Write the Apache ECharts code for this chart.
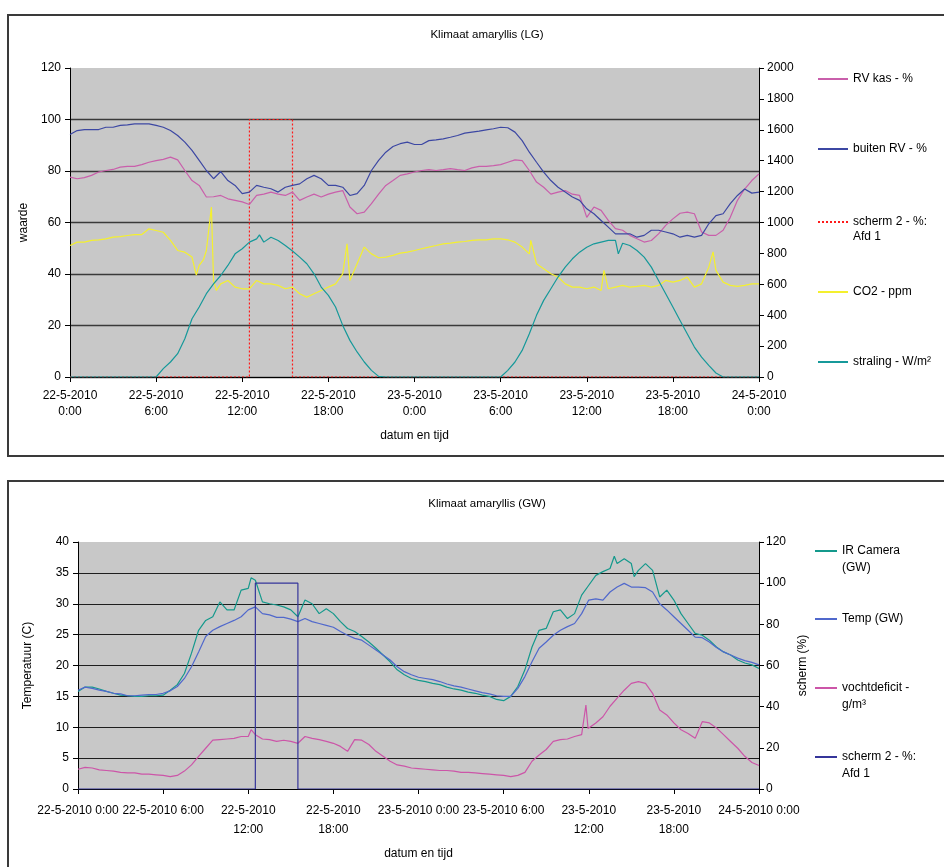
<!DOCTYPE html>
<html lang="nl">
<head>
    <meta charset="UTF-8">
    <title>Klimaat amaryllis</title>
    <script src="https://cdn.jsdelivr.net/npm/echarts@6/dist/echarts.min.js"></script>
    <style>
        body { margin: 0; background: #fff; overflow: hidden; }
        .box {
            position: absolute;
            left: 7px;
            width: 945px;
            border: 2px solid #3a3a3a;
            background: #fff;
        }
        #lg { top: 14px; height: 439px; }
        #gw { top: 480px; height: 400px; }
    </style>
</head>
<body>
<div id="lg" class="box"></div>
<div id="gw" class="box"></div>

<script>
    // tijdstippen: elk half uur, 22-5-2010 0:00 t/m 24-5-2010 0:00 (in uren)
    const hours = [];
    for (let i = 0; i <= 96; i++) hours.push(i / 2);

    // ---- grafiek 1: Klimaat amaryllis (LG) ----
    const xLabelsLG = ['22-5-2010\n0:00', '22-5-2010\n6:00', '22-5-2010\n12:00', '22-5-2010\n18:00',
        '23-5-2010\n0:00', '23-5-2010\n6:00', '23-5-2010\n12:00', '23-5-2010\n18:00', '24-5-2010\n0:00'];

    const rvKas = [77.6, 77, 77.4, 78.3, 79.6, 80.2, 80.6, 81.5, 81.8, 81.8, 82.5, 83.4, 84, 84.5, 85.4, 84.3,
        80.2, 76.3, 74.4, 69.9, 70, 70.5, 69.2, 68.6, 68, 67, 70.5, 71, 71.8, 71, 70.5, 71.8,
        68.6, 69.9, 71, 69.9, 71, 71.8, 72.4, 66, 63.4, 64, 67.3, 71, 74.4, 76.3, 78.3, 78.9,
        79.6, 80.2, 80.5, 80.2, 80.5, 80.9, 80.5, 80.2, 81.2, 81.8, 81.8, 82.1, 82.5, 83.4, 84.3, 84,
        80.2, 75.7, 73.7, 71, 71.8, 72.4, 71, 70.5, 62, 66, 64.7, 60.8, 57.6, 57, 55, 53.7,
        52.4, 53, 55.6, 58.9, 61.4, 63.6, 64, 63.4, 56.3, 55, 55, 57, 62, 68.6, 73, 76.3, 78.9];

    const buitenRV = [94.2, 95.7, 96.1, 96.1, 96.1, 97, 97, 97.7, 97.9, 98.3, 98.3, 98.3, 97.7, 97, 95.7, 93.8,
        91.2, 88, 84.1, 80.2, 77, 79.8, 76.3, 74.4, 71.2, 71.8, 74.4, 73.7, 73.1, 71.8, 73.7, 74.4,
        75, 77, 78.3, 77, 74.4, 74.4, 73.7, 70.5, 71.2, 74.4, 80.2, 84.1, 87.3, 89.5, 90.6, 91.2,
        90.3, 90.3, 91.8, 92.1, 92.5, 93.1, 93.8, 94.7, 95.1, 95.5, 96, 96.4, 97, 96.8, 95.1, 91.8,
        87.3, 83.4, 79.6, 76.3, 73.7, 71.8, 69.9, 68.6, 65.3, 63.4, 60.8, 58.2, 55.6, 55.6, 55.6, 54.3,
        55, 57, 57, 56.3, 55.6, 54.3, 55, 54.3, 55, 59.5, 62.7, 63.4, 67.3, 70.5, 73, 71.4, 71.8];

    const co2 = [851, 873, 873, 884, 888, 894, 905, 909, 916, 922, 922, 959, 948, 937, 884, 819,
        808, 776, 722, 819, 625, 603, 625, 582, 571, 571, 625, 603, 603, 593, 571, 582,
        539, 517, 539, 560, 582, 603, 668, 625, 733, 841, 797, 772, 776, 787, 802, 808,
        819, 830, 841, 851, 862, 866, 873, 877, 884, 888, 888, 894, 894, 888, 873, 841,
        797, 733, 700, 668, 647, 603, 582, 582, 571, 582, 560, 571, 582, 593, 582, 586,
        593, 582, 593, 625, 614, 625, 647, 582, 603, 711, 690, 614, 593, 586, 593, 603, 603];
    // losse pieken in CO2 tussen de halfuurswaarden
    const co2PiekUren = [8.8, 9.3, 9.85, 10.2, 19.3, 32.1, 37.2, 44.8];
    const co2PiekVals = [660, 760, 1100, 560, 862, 884, 690, 810];

    const straling = [0, 0, 0, 0, 0, 0, 0, 0, 0, 0, 0, 0, 0, 54, 97, 151,
        248, 377, 453, 539, 603, 657, 722, 797, 830, 873, 894, 873, 905, 884, 851, 815,
        776, 733, 668, 582, 528, 453, 334, 237, 162, 97, 43, 4, 0, 0, 0, 0,
        0, 0, 0, 0, 0, 0, 0, 0, 0, 0, 0, 0, 0, 43, 97, 172,
        280, 399, 496, 571, 647, 711, 765, 808, 840, 862, 873, 884, 884, 866, 851, 819,
        776, 711, 625, 539, 453, 366, 280, 194, 129, 75, 26, 0, 0, 0, 0, 0, 0];
    const stralingPiekUren = [13.2, 38.2];
    const stralingPiekVals = [920, 797];

    // scherm 2 - %: Afd 1 (dicht van 12:30 tot 15:30)
    const schermHours = [0, 12.5, 12.5, 15.5, 15.5, 48];
    const schermVals = [0, 0, 100, 100, 0, 0];

    // ---- grafiek 2: Klimaat amaryllis (GW) ----
    const xLabelsGW = ['22-5-2010 0:00', '22-5-2010 6:00', '22-5-2010\n12:00', '22-5-2010\n18:00',
        '23-5-2010 0:00', '23-5-2010 6:00', '23-5-2010\n12:00', '23-5-2010\n18:00', '24-5-2010 0:00'];

    const irCamera = [15.8, 16.5, 16.5, 16.2, 15.8, 15.5, 15.2, 15.1, 15, 15, 15.1, 15.1, 15.2, 16, 16.9, 18.7,
        22, 25.7, 27.3, 27.9, 30.3, 29, 29, 32.2, 32.5, 33.8, 30.3, 30, 29.8, 29.5, 29, 27.9,
        30.6, 30, 28.4, 29.2, 28.4, 27.1, 26, 25.5, 24.7, 23.8, 22.8, 21.7, 20.6, 19.3, 18.5, 17.9,
        17.6, 17.4, 17.1, 16.9, 16.5, 16.2, 16, 15.7, 15.5, 15.2, 15, 14.5, 14.3, 15, 16.6, 19.3,
        23, 25.7, 26, 28.7, 29, 27.6, 28.4, 31.4, 33, 34.6, 35.2, 35.7, 36.5, 37.3, 36.5, 35.4,
        36.5, 35.4, 31.1, 32.2, 30.6, 28.4, 26.8, 25.2, 24.9, 24.1, 23, 22.2, 21.7, 20.9, 20.4, 20.1, 19.5];
    const irPiekUren = [12.2, 37.8, 39.2];
    const irPiekVals = [34.2, 37.7, 34.4];

    const tempGW = [16, 16.5, 16.3, 16, 15.8, 15.5, 15.4, 15.1, 15.1, 15.2, 15.3, 15.3, 15.5, 15.9, 16.6, 17.9,
        19.8, 22.2, 24.7, 25.7, 26.3, 26.8, 27.3, 27.9, 29, 29.5, 28.4, 28.2, 27.8, 27.8, 27.5, 27.1,
        27.6, 27.1, 26.8, 26.5, 26.2, 25.5, 24.9, 24.4, 24.1, 23.3, 22.5, 21.7, 20.9, 19.8, 19, 18.5,
        18.1, 17.9, 17.7, 17.4, 17, 16.7, 16.5, 16.2, 15.9, 15.6, 15.4, 15.1, 15, 15, 16.3, 18.2,
        20.6, 22.8, 23.8, 24.9, 25.7, 26.3, 26.8, 28.4, 30.6, 30.8, 30.6, 31.9, 32.7, 33.3, 32.7, 32.7,
        32.6, 31.9, 30, 29, 27.9, 26.8, 25.7, 24.6, 24.5, 23.8, 22.9, 22.2, 21.7, 21.2, 20.8, 20.5, 20.1];

    const vochtdeficit = [3.2, 3.5, 3.4, 3.1, 3, 2.9, 2.7, 2.6, 2.6, 2.4, 2.4, 2.3, 2.2, 2, 2.2, 2.9,
        3.9, 5.3, 6.6, 7.9, 8, 8.1, 8.2, 8.5, 8.5, 8.8, 8.1, 8, 7.7, 7.9, 7.7, 7.4,
        8.5, 8.2, 8, 7.7, 7.4, 6.9, 6.1, 8, 7.9, 7.2, 6.1, 5.3, 4.5, 3.9, 3.7, 3.4,
        3.3, 3.2, 3.1, 3, 3, 2.9, 2.7, 2.7, 2.6, 2.5, 2.4, 2.3, 2.2, 2, 2.2, 2.7,
        4.5, 5.5, 6.4, 7.7, 8, 8.1, 8.5, 8.8, 10.1, 10.7, 11.7, 13.4, 14.7, 16, 17.1, 17.4,
        17.1, 15.5, 12.8, 12, 10.7, 9.6, 9, 8.2, 10.9, 10.7, 9.9, 8.8, 7.7, 6.6, 5.3, 4.3, 3.8];
    const vochtPiekUren = [12.2, 35.8, 35.95];
    const vochtPiekVals = [9.6, 13.6, 9.8];

    const schermGWHours = [0, 12.5, 12.5, 15.5, 15.5, 48];
    const schermGWVals = [0, 0, 100, 100, 0, 0];

    // ---------------------------------------------------------------
    const FONT = 'Liberation Sans, Arial, sans-serif';
    const txt = {color: '#000', fontFamily: FONT, fontSize: 12};

    // halfuurswaarden plus eventuele losse pieken, gesorteerd op tijd
    function pairs(xs, ys, extraX, extraY) {
        const p = xs.map((x, i) => [x, ys[i]]);
        if (extraX) extraX.forEach((x, i) => p.push([x, extraY[i]]));
        return p.sort((a, b) => a[0] - b[0]);
    }

    function lineSeries(name, data, color, yAxisIndex, dotted) {
        return {
            name: name,
            type: 'line',
            yAxisIndex: yAxisIndex,
            data: data,
            symbol: 'none',
            animation: false,
            lineStyle: {color: color, width: 1.2, type: dotted ? [2, 2] : 'solid'},
            itemStyle: {color: color}
        };
    }

    // één legenda per item, zodat ze net als in Excel los onder elkaar staan
    function legendItem(name, left, top, lh, iconW) {
        return {
            data: [name],
            left: left,
            top: top,
            padding: 0,
            itemWidth: iconW,
            itemHeight: lh,
            selectedMode: false,
            itemStyle: {opacity: 0},
            // tweeregelige namen: lege regel ervoor, zodat de eerste regel naast het lijntje staat
            formatter: n => n.indexOf('\n') >= 0 ? '\u00a0\n' + n : n,
            textStyle: Object.assign({}, txt, {lineHeight: lh})
        };
    }

    // grafiek 1
    const chartLG = echarts.init(document.getElementById('lg'));
    chartLG.setOption({
        animation: false,
        title: {
            text: 'Klimaat amaryllis (LG)',
            left: 473, top: 8, textAlign: 'center',
            textStyle: {color: '#000', fontFamily: FONT, fontSize: 11.5, fontWeight: 'normal'}
        },
        grid: {left: 61, top: 52, width: 689, height: 309, show: true, backgroundColor: '#c8c8c8', borderWidth: 0},
        xAxis: {
            type: 'value', min: 0, max: 48, interval: 6,
            name: 'datum en tijd', nameLocation: 'middle', nameGap: 53, nameTextStyle: txt,
            axisLine: {lineStyle: {color: '#000'}},
            axisTick: {length: 5, lineStyle: {color: '#000'}},
            axisLabel: Object.assign({}, txt, {margin: 11, lineHeight: 16, formatter: v => xLabelsLG[v / 6]}),
            splitLine: {show: false}
        },
        yAxis: [{
            type: 'value', min: 0, max: 120, interval: 20,
            name: 'waarde', nameLocation: 'middle', nameGap: 36, nameTextStyle: txt,
            axisLine: {show: true, lineStyle: {color: '#000'}},
            axisTick: {show: true, length: 5, lineStyle: {color: '#000'}},
            axisLabel: Object.assign({}, txt, {margin: 9}),
            splitLine: {show: true, showMaxLine: false, lineStyle: {color: '#3a3a3a', width: 1.4}}
        }, {
            type: 'value', min: 0, max: 2000, interval: 200, position: 'right',
            axisLine: {show: true, lineStyle: {color: '#000'}},
            axisTick: {show: true, length: 5, lineStyle: {color: '#000'}},
            axisLabel: Object.assign({}, txt, {margin: 8, formatter: v => String(v)}),
            splitLine: {show: false}
        }],
        legend: [
            legendItem('RV kas - %', 808, 55.5, 15, 30),
            legendItem('buiten RV - %', 808, 125.5, 15, 30),
            legendItem('scherm 2 - %:\nAfd 1', 808, 183.5, 15, 30),
            legendItem('CO2 - ppm', 808, 268.5, 15, 30),
            legendItem('straling - W/m²', 808, 338.5, 15, 30)
        ],
        series: [
            lineSeries('scherm 2 - %:\nAfd 1', pairs(schermHours, schermVals), '#ff1a1a', 0, true),
            lineSeries('RV kas - %', pairs(hours, rvKas), '#c95fab', 0),
            lineSeries('buiten RV - %', pairs(hours, buitenRV), '#3c47a3', 0),
            lineSeries('CO2 - ppm', pairs(hours, co2, co2PiekUren, co2PiekVals), '#f4f02e', 1),
            lineSeries('straling - W/m²', pairs(hours, straling, stralingPiekUren, stralingPiekVals), '#16999a', 1)
        ]
    });

    // grafiek 2
    const chartGW = echarts.init(document.getElementById('gw'));
    chartGW.setOption({
        animation: false,
        title: {
            text: 'Klimaat amaryllis (GW)',
            left: 473, top: 11, textAlign: 'center',
            textStyle: {color: '#000', fontFamily: FONT, fontSize: 11.5, fontWeight: 'normal'}
        },
        grid: {left: 69, top: 60, width: 681, height: 247, show: true, backgroundColor: '#c8c8c8', borderWidth: 0},
        xAxis: {
            type: 'value', min: 0, max: 48, interval: 6,
            name: 'datum en tijd', nameLocation: 'middle', nameGap: 59, nameTextStyle: txt,
            axisLine: {lineStyle: {color: '#000'}},
            axisTick: {length: 5, lineStyle: {color: '#000'}},
            axisLabel: Object.assign({}, txt, {margin: 12, lineHeight: 19, formatter: v => xLabelsGW[v / 6]}),
            splitLine: {show: false}
        },
        yAxis: [{
            type: 'value', min: 0, max: 40, interval: 5,
            name: 'Temperatuur (C)', nameLocation: 'middle', nameGap: 44, nameTextStyle: txt,
            axisLine: {show: true, lineStyle: {color: '#000'}},
            axisTick: {show: true, length: 5, lineStyle: {color: '#000'}},
            axisLabel: Object.assign({}, txt, {margin: 9}),
            splitLine: {show: true, showMaxLine: false, lineStyle: {color: '#1e1e1e', width: 1.2}}
        }, {
            type: 'value', min: 0, max: 120, interval: 20, position: 'right',
            name: 'scherm (%)', nameLocation: 'middle', nameGap: 35, nameTextStyle: txt,
            axisLine: {show: true, lineStyle: {color: '#000'}},
            axisTick: {show: true, length: 5, lineStyle: {color: '#000'}},
            axisLabel: Object.assign({}, txt, {margin: 7}),
            splitLine: {show: false}
        }],
        legend: [
            legendItem('IR Camera\n(GW)', 805, 43.5, 17, 22),
            legendItem('Temp (GW)', 805, 128.5, 17, 22),
            legendItem('vochtdeficit -\ng/m³', 805, 180.5, 17, 22),
            legendItem('scherm 2 - %:\nAfd 1', 805, 249.5, 17, 22)
        ],
        series: [
            lineSeries('IR Camera\n(GW)', pairs(hours, irCamera, irPiekUren, irPiekVals), '#14998c', 0),
            lineSeries('Temp (GW)', pairs(hours, tempGW), '#5068cc', 0),
            lineSeries('vochtdeficit -\ng/m³', pairs(hours, vochtdeficit, vochtPiekUren, vochtPiekVals), '#cc55a8', 0),
            lineSeries('scherm 2 - %:\nAfd 1', pairs(schermGWHours, schermGWVals), '#35359a', 1)
        ]
    });
</script>
</body>
</html>
